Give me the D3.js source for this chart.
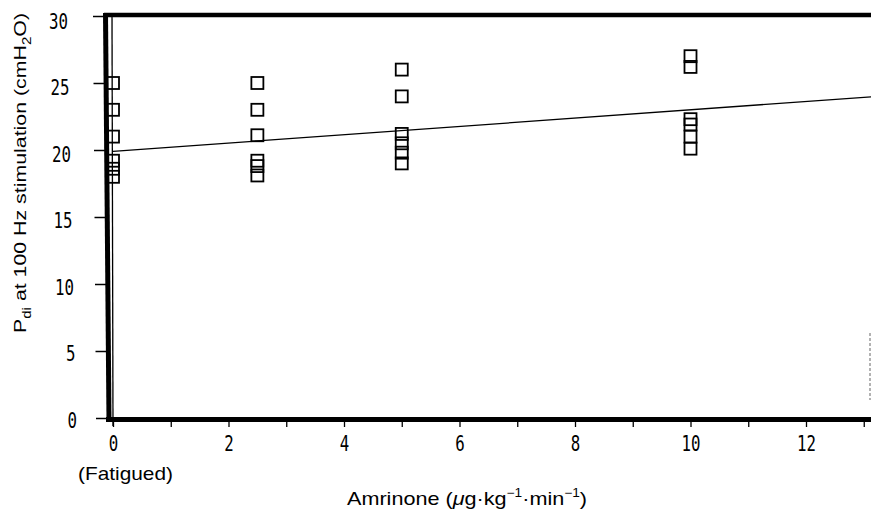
<!DOCTYPE html>
<html><head><meta charset="utf-8">
<script src="https://cdn.jsdelivr.net/npm/d3@7"></script>
<style>body{margin:0;background:#fff}svg{display:block}</style>
</head><body>
<svg id="c" width="871" height="513"></svg>
<script>
// Data
const doses = [0, 0, 0, 0, 0, 0,
               2.5, 2.5, 2.5, 2.5, 2.5, 2.5,
               5, 5, 5, 5, 5, 5,
               10, 10, 10, 10, 10, 10];
const pdi = [25, 23, 21, 19.2, 18.6, 18,
             25, 23, 21.1, 19.2, 18.8, 18.1,
             26, 24, 21.2, 20.5, 19.8, 19,
             27, 26.2, 22.3, 21.9, 21, 20.1];
const fitIntercept = 19.9;
const fitSlope = 0.31;
const xTicks = [0, 2, 4, 6, 8, 10, 12];
const xMinorTicks = [0,1,2,3,4,5,6,7,8,9,10,11,12,13];
const yTicks = [0, 5, 10, 15, 20, 25, 30];

const svg = d3.select("#c");
const x = d3.scaleLinear().domain([0, 12]).range([113, 806]);
const y = d3.scaleLinear().domain([0, 30]).range([418, 16]);
const xRight = x.invert(875);
const frac = v => (y(0) - y(v)) / (y(0) - y(30)); // 0 at bottom, 1 at top (scan skew)

// frame
svg.append("line").attr("x1", 104).attr("x2", 875).attr("y1", 15).attr("y2", 15)
  .attr("stroke", "#000").attr("stroke-width", 4.5);
svg.append("line").attr("x1", 106).attr("x2", 875).attr("y1", 419.5).attr("y2", 419.5)
  .attr("stroke", "#000").attr("stroke-width", 5);
svg.append("line").attr("x1", 105.5).attr("x2", 109).attr("y1", 13).attr("y2", 422)
  .attr("stroke", "#000").attr("stroke-width", 5);
svg.append("line").attr("x1", 112).attr("x2", 113).attr("y1", 15).attr("y2", 426)
  .attr("stroke", "#000").attr("stroke-width", 1.3);
svg.append("line").attr("x1", 870).attr("x2", 870).attr("y1", 333).attr("y2", 400)
  .attr("stroke", "#999").attr("stroke-width", 1.5).attr("stroke-dasharray", "3,2");

// y axis ticks
const yAxis = d3.axisLeft(y).tickValues(yTicks).tickSize(11).tickPadding(0)
  .tickFormat(d3.format("d"));
const gy = svg.append("g").attr("transform", "translate(106,0)").call(yAxis);
gy.select(".domain").remove();
gy.selectAll(".tick line").attr("stroke-width", 1.5)
  .attr("transform", d => `translate(${-3 * frac(d) + 1},0)`);
gy.selectAll(".tick text")
  .attr("font-family", "DejaVu Sans Mono").attr("font-size", 21).attr("fill", "#000")
  .attr("text-anchor", "end").attr("x", 0).attr("dy", "0.36em")
  .attr("transform", d => `translate(${77 - 9 * frac(d) - 106},${1.5 + 3 * frac(d)}) scale(0.75,1)`);

// x axis
const xAxisMinor = d3.axisBottom(x).tickValues(xMinorTicks).tickSize(9).tickFormat("");
const gxm = svg.append("g").attr("transform", `translate(0,${y(0)})`).call(xAxisMinor);
gxm.select(".domain").remove();
gxm.selectAll("line").attr("stroke-width", 1.3);
const xAxis = d3.axisBottom(x).tickValues(xTicks).tickSize(0).tickPadding(0)
  .tickFormat(d3.format("d"));
const gx = svg.append("g").attr("transform", `translate(0,${y(0)})`).call(xAxis);
gx.select(".domain").remove();
gx.selectAll("text").attr("font-family", "DejaVu Sans Mono").attr("font-size", 21).attr("fill", "#000")
  .attr("y", 0).attr("dy", 0)
  .attr("transform", "translate(0,32.5) scale(0.75,1)");

// regression line
svg.append("line")
  .attr("x1", x(0)).attr("y1", y(fitIntercept))
  .attr("x2", x(xRight)).attr("y2", y(fitIntercept + fitSlope * xRight))
  .attr("stroke", "#000").attr("stroke-width", 1.3);

// squares
const s = 12;
svg.append("g").selectAll("rect").data(d3.range(doses.length)).join("rect")
  .attr("x", i => x(doses[i]) - s/2)
  .attr("y", i => y(pdi[i]) - s/2)
  .attr("width", s).attr("height", s)
  .attr("fill", "none").attr("stroke", "#000").attr("stroke-width", 1.8);

// labels
const sans = "Liberation Sans, Arial, sans-serif";
svg.append("text").attr("x", 78).attr("y", 480)
  .attr("font-family", sans).attr("font-size", 19)
  .attr("textLength", 95).attr("lengthAdjust", "spacingAndGlyphs")
  .text("(Fatigued)");

const xt = svg.append("text").attr("x", 347).attr("y", 505)
  .attr("font-family", sans).attr("font-size", 19)
  .attr("textLength", 240).attr("lengthAdjust", "spacingAndGlyphs");
xt.append("tspan").text("Amrinone (");
xt.append("tspan").attr("font-style", "italic").text("μ");
xt.append("tspan").text("g·kg");
xt.append("tspan").attr("font-size", 12).attr("dy", -8).text("−1");
xt.append("tspan").attr("dy", 8).text("·min");
xt.append("tspan").attr("font-size", 12).attr("dy", -8).text("−1");
xt.append("tspan").attr("dy", 8).text(")");

const yt = svg.append("text").attr("transform", "translate(26,333) rotate(-90)")
  .attr("font-family", sans).attr("font-size", 17)
  .attr("textLength", 320).attr("lengthAdjust", "spacingAndGlyphs");
yt.append("tspan").text("P");
yt.append("tspan").attr("font-size", 12).attr("dy", 5).text("di");
yt.append("tspan").attr("dy", -5).text(" at 100 Hz stimulation (cmH");
yt.append("tspan").attr("font-size", 12).attr("dy", 5).text("2");
yt.append("tspan").attr("dy", -5).text("O)");
</script>
</body></html>
